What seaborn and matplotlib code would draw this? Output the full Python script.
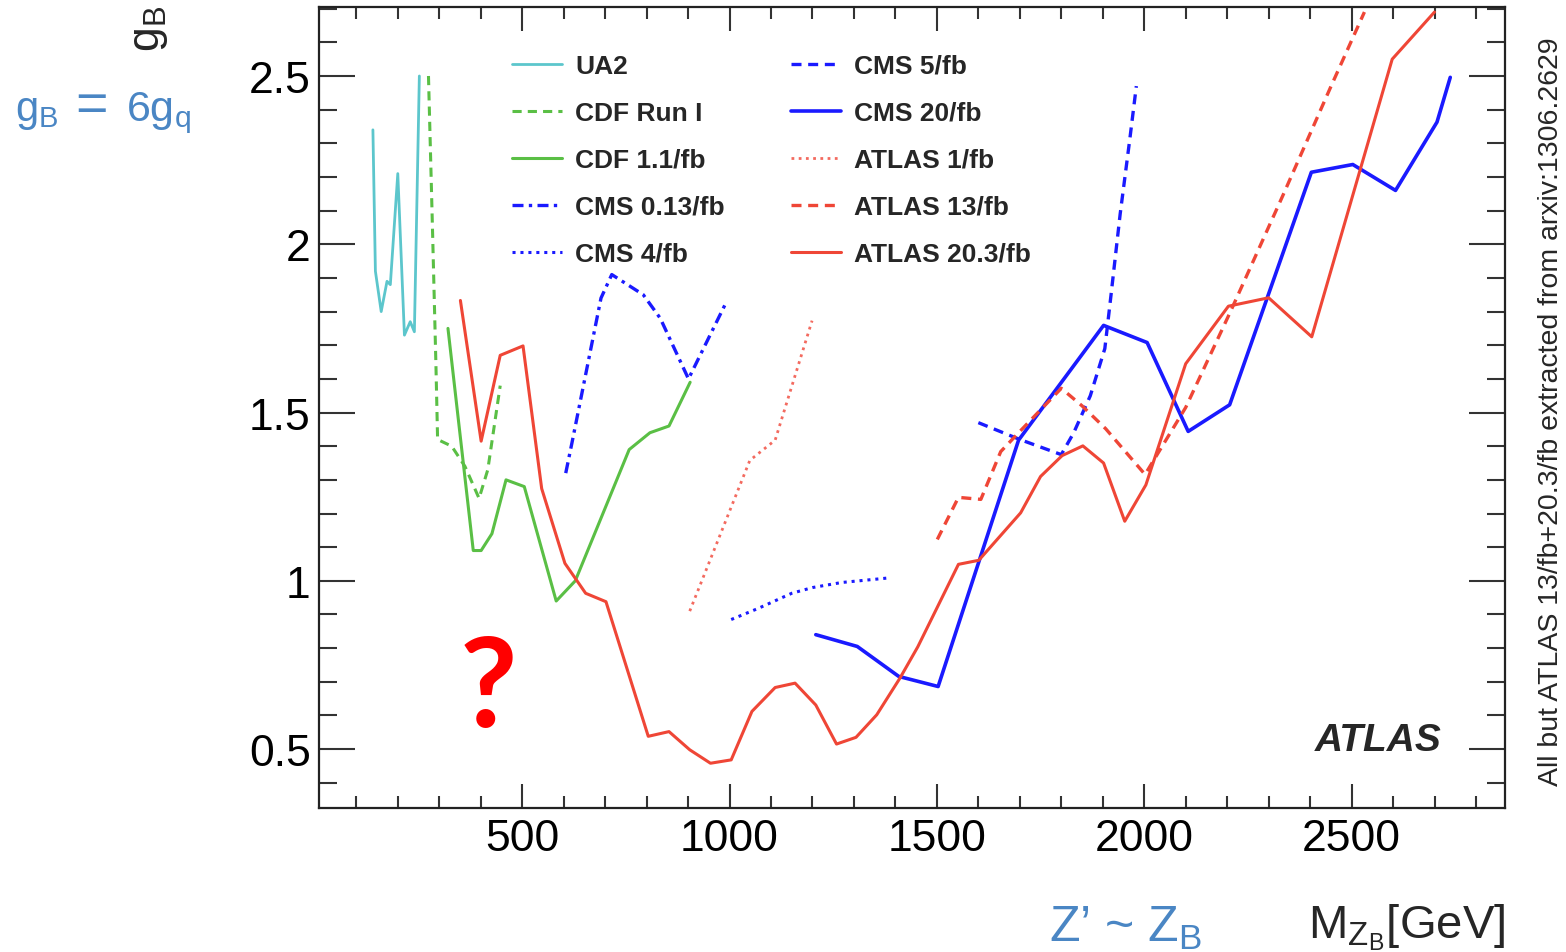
import matplotlib
matplotlib.use("Agg")
import matplotlib.pyplot as plt
import seaborn as sns
import numpy as np
from matplotlib.ticker import MultipleLocator, FuncFormatter

# ---------------- data ----------------
ua2_x = [140, 146, 160, 174, 182, 200, 216, 230, 240, 252]
ua2_y = [2.34, 1.92, 1.80, 1.89, 1.88, 2.21, 1.73, 1.77, 1.74, 2.50]

cdf1_x = [274, 284, 292, 296, 330, 362, 396, 417, 447]
cdf1_y = [2.50, 2.03, 1.64, 1.42, 1.40, 1.34, 1.245, 1.33, 1.58]

cdf11_x = [321, 382, 401, 427, 461, 505, 582, 628, 758, 808, 854, 905]
cdf11_y = [1.75, 1.09, 1.09, 1.14, 1.30, 1.28, 0.94, 1.00, 1.39, 1.44, 1.46, 1.59]

cms013_x = [605, 620, 690, 716, 792, 833, 901, 993]
cms013_y = [1.32, 1.41, 1.84, 1.91, 1.85, 1.78, 1.60, 1.83]

cms4_x = [1004, 1069, 1150, 1200, 1270, 1379]
cms4_y = [0.885, 0.918, 0.963, 0.98, 0.995, 1.008]

cms5_x = [1600, 1700, 1800, 1830, 1870, 1905, 1920, 1942, 1965, 1981]
cms5_y = [1.47, 1.42, 1.375, 1.44, 1.55, 1.69, 1.85, 2.09, 2.31, 2.47]

cms20_x = [1208, 1308, 1408, 1503, 1697, 1902, 2007, 2106, 2206, 2403, 2503, 2606, 2706, 2738]
cms20_y = [0.84, 0.805, 0.716, 0.686, 1.418, 1.759, 1.708, 1.444, 1.523, 2.214, 2.237, 2.16, 2.363, 2.496]

atlas1_x = [904, 1049, 1110, 1199]
atlas1_y = [0.91, 1.358, 1.418, 1.773]

atlas13_x = [1501, 1552, 1606, 1654, 1697, 1800, 1850, 1907, 2002, 2100, 2208, 2334, 2451, 2531]
atlas13_y = [1.123, 1.248, 1.242, 1.384, 1.44, 1.572, 1.52, 1.452, 1.316, 1.515, 1.80, 2.144, 2.471, 2.69]

atlas20_x = [351, 401, 447, 502, 547, 603, 653, 702, 804, 854, 904, 954, 1004, 1054,
             1110, 1158, 1208, 1258, 1305, 1355, 1411, 1454, 1552, 1601, 1702, 1750,
             1802, 1852, 1902, 1953, 2004, 2100, 2203, 2300, 2404, 2598, 2700]
atlas20_y = [1.833, 1.415, 1.67, 1.698, 1.274, 1.052, 0.963, 0.938, 0.538, 0.552, 0.498,
             0.458, 0.468, 0.612, 0.683, 0.696, 0.631, 0.515, 0.535, 0.602, 0.711, 0.804,
             1.049, 1.061, 1.202, 1.31, 1.372, 1.401, 1.35, 1.177, 1.285, 1.645, 1.816,
             1.841, 1.725, 2.55, 2.69]

labels = ["UA2", "CDF Run I", "CDF 1.1/fb", "CMS 0.13/fb", "CMS 4/fb",
          "CMS 5/fb", "CMS 20/fb", "ATLAS 1/fb", "ATLAS 13/fb", "ATLAS 20.3/fb"]

x_major_ticks = [500, 1000, 1500, 2000, 2500]
y_major_ticks = [0.5, 1.0, 1.5, 2.0, 2.5]

# ---------------- style ----------------
sns.set_style("ticks")
plt.rcParams["font.family"] = ["Liberation Sans", "DejaVu Sans"]
plt.rcParams["mathtext.fontset"] = "custom"
plt.rcParams["mathtext.rm"] = "Liberation Sans"
plt.rcParams["mathtext.it"] = "Liberation Sans:italic"
plt.rcParams["mathtext.bf"] = "Liberation Sans:bold"

W, H = 1566, 953
fig = plt.figure(figsize=(W / 100, H / 100), dpi=100)
L, R, T, B = 319, 1505, 8, 809
ax = fig.add_axes([L / W, 1 - B / H, (R - L) / W, (B - T) / H])

CYAN = "#5cc6cc"
GREEN = "#5abf45"
BLUE = "#1a1aff"
RED = "#ef4636"
RED_LIGHT = "#f36a5f"

DASH = (0, (3.0, 2.0))
DOT = (0, (1.0, 1.6))
DASHDOT = (0, (3.3, 1.6, 1.0, 1.6))

series = [
    (ua2_x, ua2_y, CYAN, "-", 2.0),
    (cdf1_x, cdf1_y, GREEN, DASH, 2.2),
    (cdf11_x, cdf11_y, GREEN, "-", 2.2),
    (cms013_x, cms013_y, BLUE, DASHDOT, 2.4),
    (cms4_x, cms4_y, BLUE, DOT, 2.2),
    (cms5_x, cms5_y, BLUE, DASH, 2.4),
    (cms20_x, cms20_y, BLUE, "-", 2.6),
    (atlas1_x, atlas1_y, RED_LIGHT, DOT, 2.0),
    (atlas13_x, atlas13_y, RED, DASH, 2.4),
    (atlas20_x, atlas20_y, RED, "-", 2.2),
]

for (xs, ys, c, ls, lw), lab in zip(series, labels):
    sns.lineplot(x=xs, y=ys, ax=ax, color=c, linestyle=ls, linewidth=lw,
                 label=lab, sort=False, estimator=None, errorbar=None)

ax.set_xlim(10, 2870)
ax.set_ylim(0.325, 2.705)

ax.xaxis.set_major_locator(plt.FixedLocator(x_major_ticks))
ax.xaxis.set_minor_locator(MultipleLocator(100))
ax.yaxis.set_major_locator(plt.FixedLocator(y_major_ticks))
ax.yaxis.set_minor_locator(MultipleLocator(0.1))
ax.xaxis.set_major_formatter(FuncFormatter(lambda v, p: "%g" % v))
ax.yaxis.set_major_formatter(FuncFormatter(lambda v, p: "%g" % v))

tick_col = "#333333"
ax.tick_params(axis="both", which="both", direction="in", top=True, right=True,
               color=tick_col, width=1.5, labelsize=32, labelcolor="black")
ax.tick_params(axis="x", which="major", length=17, pad=7)
ax.tick_params(axis="x", which="minor", length=8.5)
ax.tick_params(axis="y", which="major", length=26, pad=6)
ax.tick_params(axis="y", which="minor", length=13)
for sp in ax.spines.values():
    sp.set_visible(True)
    sp.set_linewidth(1.6)
    sp.set_color("#222222")
ax.grid(False)

# axis titles
ax.set_xlabel(r"$\mathregular{M_{Z_B}[GeV]}$", fontsize=34)
ax.xaxis.label.set(ha="right", va="baseline")
ax.xaxis.set_label_coords(1.0, (B - 938) / (B - T))

ax.set_ylabel(r"$\mathregular{g_B}$", fontsize=32)
ax.yaxis.label.set(rotation_mode="default", ha="center", va="top")
ax.yaxis.set_label_coords((150 - L) / (R - L), (B - 6) / (B - T))

# legend
handles, labs = ax.get_legend_handles_labels()
ax.legend(handles, labs, ncol=2, loc="upper left",
          bbox_to_anchor=(512 / W, 1 - 55 / H), bbox_transform=fig.transFigure,
          frameon=False, prop={"size": 19, "weight": "bold"},
          handlelength=1.9, handletextpad=0.5, columnspacing=2.5,
          labelspacing=0.87, borderpad=0, borderaxespad=0)

# annotations
BLUE_TXT = "#4a86c4"
fig.text(15 / W, 1 - 121 / H, r"$\mathregular{g_B}$",
         fontsize=30, color=BLUE_TXT, ha="left", va="baseline")
fig.text(91 / W, 1 - 121 / H, "=",
         fontsize=40, color=BLUE_TXT, ha="center", va="baseline")
fig.text(126 / W, 1 - 121 / H, r"6$\mathregular{g_q}$",
         fontsize=31, color=BLUE_TXT, ha="left", va="baseline")
fig.text(1049 / W, 1 - 942 / H, r"Z’ ~ $\mathregular{Z_B}$",
         fontsize=36, color=BLUE_TXT, ha="left", va="baseline")
fig.text(488 / W, 1 - 727 / H, "?", fontsize=90, color="#ff0000",
         fontweight="bold", ha="center", va="baseline", family=["Lato", "DejaVu Sans"])
fig.text(1442 / W, 1 - 751 / H, "ATLAS", fontsize=28, fontweight="bold",
         fontstyle="italic", ha="right", va="baseline")
fig.text(1551 / W, 1 - 412 / H,
         "All but ATLAS 13/fb+20.3/fb extracted from arxiv:1306.2629",
         rotation=90, fontsize=20.5, ha="center", va="center")

fig.savefig("out.png", dpi=100)
